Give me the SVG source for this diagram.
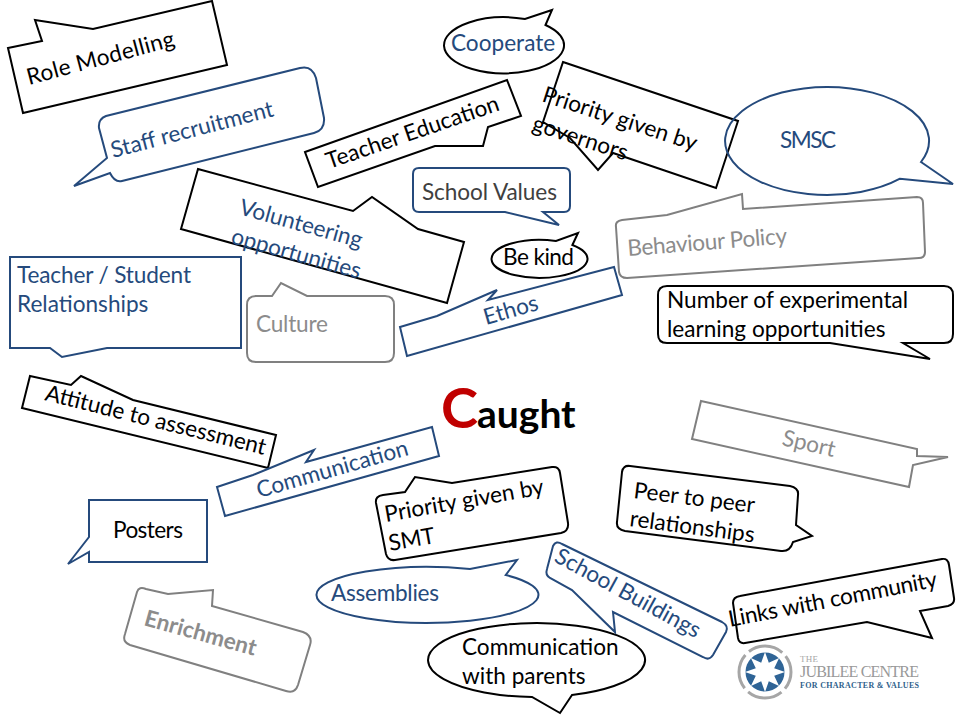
<svg xmlns="http://www.w3.org/2000/svg" width="960" height="720" viewBox="0 0 960 720">
<style>
text{font-family:Lato,"Carlito","Open Sans",sans-serif;font-size:22.6px}
.s{fill:none;stroke-width:2;stroke-linejoin:miter}
.k{stroke:#000}.b{stroke:#254a7c}.g{stroke:#808080}
.tk{fill:#000}.tb{fill:#254a7c}.tg{fill:#8c8c8c}.td{fill:#404040}
</style>
<rect width="960" height="720" fill="#fff"/>
<g id="role-modelling"><path class="s k" d="M8 48L42 41L35 20L93 29L212 1L227 65L23 113Z"/><text class="tk" textLength="152" transform="translate(29 85) rotate(-15)">Role Modelling</text></g>
<g id="staff-recruitment"><path class="s b" d="M74 186L107 158L99 128Q98 119 106 116L300 68Q312 65 316 78L324 118Q325 130 314 133L122 181Q115 183 110 173Z"/><text class="tb" transform="translate(113 158) rotate(-14.6)">Staff recruitment</text></g>
<g id="teacher-education"><path class="s k" d="M305 152L507 80L521 116L488 127L483 146L435 146L318 187Z"/><text class="tk" transform="translate(329 169) rotate(-19)">Teacher Education</text></g>
<g id="cooperate"><path class="s k" d="M545.5 25L552 10L525 19A60 28 0 1 0 545.5 25Z"/><text class="tb" x="451" y="51">Cooperate</text></g>
<g id="priority-governors"><path class="s k" d="M563 62L738 121L716 188L613 153L598 170L570 138L543 122Z"/><text class="tk" transform="translate(541 101) rotate(18)">Priority given by</text><text class="tk" transform="translate(531 130) rotate(18)">governors</text></g>
<g id="smsc"><path class="s b" d="M921 162L953 184L900 178.7A102 54 0 1 1 921 162Z"/><text class="tb" x="780" y="148" textLength="56">SMSC</text></g>
<g id="school-values"><path class="s b" d="M419 168H564Q570 168 570 174V206Q570 212 564 212H543L559 225L505 212H419Q413 212 413 206V174Q413 168 419 168Z"/><text class="td" x="422" y="200" textLength="135">School Values</text></g>
<g id="be-kind"><path class="s k" d="M572.4 245L578 233L556 241A48 19 0 1 0 572.4 245Z"/><text class="tk" x="503" y="265" textLength="71">Be kind</text></g>
<g id="behaviour-policy"><path class="s g" d="M616 227Q615 221 622 220L667 215L742 194L743 209L917 197Q923 197 923 203L925 252Q925 258 919 258L627 278Q620 278 619 272Z"/><text class="tg" textLength="160" transform="translate(628 256) rotate(-4.5)">Behaviour Policy</text></g>
<g id="experimental"><path class="s k" d="M667 286H944Q953 286 953 295V334Q953 343 944 343H903L930 359L830 343H667Q658 343 658 334V295Q658 286 667 286Z"/><text class="tk" x="667" y="308">Number of experimental</text><text class="tk" x="667" y="337">learning opportunities</text></g>
<g id="teacher-student"><path class="s b" d="M10 257H241V348H107L62 357L50 348H10Z"/><text class="tb" x="17" y="283" textLength="174">Teacher / Student</text><text class="tb" x="17" y="312">Relationships</text></g>
<g id="culture"><path class="s g" d="M256 296H272L281 283L307 296H385Q394 296 394 305V353Q394 362 385 362H256Q247 362 247 353V305Q247 296 256 296Z"/><text class="tg" x="256" y="332" textLength="72">Culture</text></g>
<g id="volunteering"><path class="s k" d="M198 169L353 211L372 197L418 229L464 242L447 303L181 229Z"/><text class="tb" transform="translate(238 214) rotate(15.5)">Volunteering</text><text class="tb" transform="translate(230 243) rotate(15.5)">opportunities</text></g>
<g id="ethos"><path class="s b" d="M400 327L437 316L497 290L488 300L614 267L622 295L407 356Z"/><text class="tb" transform="translate(486 325) rotate(-16)">Ethos</text></g>
<g id="attitude"><path class="s k" d="M30 376L71 385L81 376L133 400L276 435L268 468L22 408Z"/><text class="tk" transform="translate(44 400) rotate(14)">Attitude to assessment</text></g>
<g id="communication"><path class="s b" d="M217 487L253 475L314 450L306 462L432 427L439 456L225 516Z"/><text class="tb" transform="translate(259 498) rotate(-16)">Communication</text></g>
<g id="posters"><path class="s b" d="M89 500H207V562H89V552L68 564L89 537Z"/><text class="tk" x="113" y="538" textLength="70">Posters</text></g>
<g id="enrichment"><path class="s g" d="M137 592Q139 586 146 589L168 594L213 590L212 606L303 632Q313 636 310 645L298 685Q295 694 286 691L130 645Q122 642 125 634Z"/><text class="tg" style="font-weight:700" transform="translate(143 625) rotate(15.5)">Enrichment</text></g>
<g id="priority-smt"><path class="s k" d="M376 503Q375 496 383 495L405 492L415 477L452 483L552 467Q559 466 560 473L568 523Q569 531 561 533L395 560Q388 561 386 554Z"/><text class="tk" transform="translate(386 522) rotate(-10)">Priority given by</text><text class="tk" transform="translate(390 551) rotate(-10)">SMT</text></g>
<g id="assemblies"><path class="s b" d="M505.7 575L517 560L470 569A111 28 0 1 0 505.7 575Z"/><text class="tb" x="331" y="601" textLength="108">Assemblies</text></g>
<g id="communication-parents"><path class="s k" d="M572 695L560 713L532 697A108.5 37 0 1 1 572 695Z"/><text class="tk" x="462" y="655">Communication</text><text class="tk" x="462" y="684">with parents</text></g>
<g id="school-buildings"><path class="s b" d="M562 544L722 622Q729 626 726 632L713 655Q709 661 703 657L613 612L615 632L572 590L550 578Q545 575 547 569L553 546Q556 540 562 544Z"/><text class="tb" transform="translate(553 561) rotate(28.5)">School Buildings</text></g>
<g id="peer"><path class="s k" d="M622 472Q623 465 630 466L790 486Q799 488 798 495L796 525L812 536L793 542Q790 552 781 551L625 531Q616 529 617 522Z"/><text class="tk" transform="translate(633 498) rotate(7)">Peer to peer</text><text class="tk" transform="translate(629 526) rotate(7.5)">relationships</text></g>
<g id="sport"><path class="s g" d="M701 401L917 449L917 456L948 457L913 465L909 487L692 439Z"/><text class="tg" transform="translate(781 445) rotate(13)">Sport</text></g>
<g id="links"><path class="s k" d="M733 603Q733 597 740 596L942 559Q948 558 949 565L954 598Q955 604 948 606L920 611L932 638L867 622L745 643Q739 644 738 638Z"/><text class="tk" textLength="212" transform="translate(730 627) rotate(-11)">Links with community</text></g>
<g id="caught"><text x="441" y="428" style="font-size:56px;font-weight:700;fill:#c00000">C</text><text x="477" y="428" style="font-size:39px;font-weight:700;fill:#000">aught</text></g>
<g id="jubilee-logo">
<circle cx="765" cy="672" r="26" fill="none" stroke="#a6a6a6" stroke-width="3" stroke-dasharray="36 4.84" stroke-dashoffset="18"/>
<circle cx="765" cy="672" r="19.5" fill="#2f6496"/>
<polygon fill="#fff" points="785,672 774.2,675.8 779.1,686.1 768.8,681.2 765,692 761.2,681.2 750.9,686.1 755.8,675.8 745,672 755.8,668.2 750.9,657.9 761.2,662.8 765,652 768.8,662.8 779.1,657.9 774.2,668.2"/>
<text x="800" y="662" style="font-family:'Liberation Serif',serif;font-size:9px;fill:#a6a6a6" textLength="18">THE</text>
<text x="800" y="677" style="font-family:'Liberation Serif',serif;font-size:16px;fill:#999" textLength="119">JUBILEE CENTRE</text>
<text x="800" y="688" style="font-family:'Liberation Serif',serif;font-size:8px;font-weight:700;fill:#2f5f8c" textLength="119">FOR CHARACTER &amp; VALUES</text>
</g>
</svg>
